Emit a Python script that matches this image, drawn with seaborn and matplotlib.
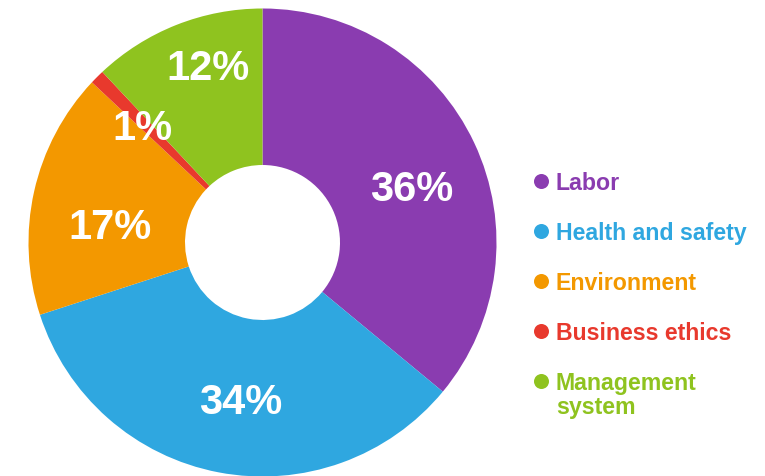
import numpy as np
import seaborn as sns
import matplotlib.pyplot as plt

# data
categories = ['Labor', 'Health and safety', 'Environment', 'Business ethics', 'Management\nsystem']
shares = [36, 34, 17, 1, 12]
colors = ['#8a3cb0', '#2fa7e0', '#f39800', '#e8392d', '#8fc31f']

# label placement tweaks (radius as fraction, angle nudge in degrees)
lab_r = [0.68, 0.673, 0.656, 0.72, 0.794]
lab_nudge = [-4.4, 2.8, 5.6, 0.4, -4.5]

sns.set_theme(style='white')
plt.rcParams['font.family'] = ['Liberation Sans', 'DejaVu Sans']

fig = plt.figure(figsize=(7.65, 4.76), dpi=100)
W, H = 765, 476
cx, cy, R = 262.5, 242.5, 234
ax = fig.add_axes([(cx - R) / W, (H - cy - R) / H, 2 * R / W, 2 * R / H])

wedges, _ = ax.pie(shares, colors=colors, startangle=90, counterclock=False,
                   radius=1, wedgeprops=dict(width=1 - 77.5 / R, linewidth=0))
ax.set_xlim(-1, 1)
ax.set_ylim(-1, 1)
ax.set_aspect('equal')
ax.axis('off')

for w, v, r, dn in zip(wedges, shares, lab_r, lab_nudge):
    a = np.deg2rad((w.theta1 + w.theta2) / 2 + dn)
    ax.text(r * np.cos(a), r * np.sin(a), f'{v}%', color='white', fontsize=30,
            fontweight='bold', ha='center', va='center_baseline')

# legend drawn by hand so the two-line label keeps its marker on the first line
lg = fig.add_axes([0, 0, 1, 1])
lg.set_xlim(0, W)
lg.set_ylim(H, 0)
lg.axis('off')
lg.patch.set_alpha(0)
for i, (lab, c) in enumerate(zip(categories, colors)):
    y = 180.5 + 50 * i
    lg.plot(541, y, 'o', color=c, ms=10.8, mec='none')
    lg.text(556, y - 8.6, lab, color=c, fontsize=16.7, fontweight='bold',
            ha='left', va='top', linespacing=1.05)

fig.savefig('out.png', dpi=100)
